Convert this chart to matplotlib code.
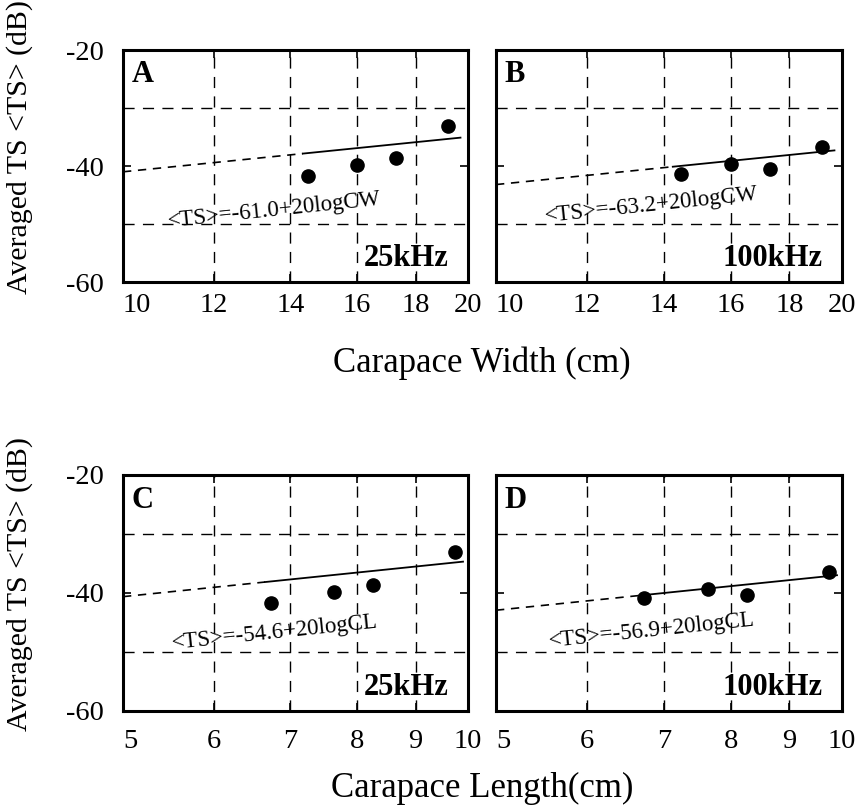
import numpy as np
import matplotlib
matplotlib.use("Agg")
import matplotlib.pyplot as plt
from matplotlib.ticker import FixedLocator, FixedFormatter, NullLocator

plt.rcParams['font.family'] = ['Liberation Serif', 'DejaVu Serif']

# ---- data ----
carapace_width = [14.5, 16.0, 17.3, 19.2]          # cm
carapace_length = [6.73, 7.64, 8.26, 9.75]         # cm
ts_25k_cw = [-41.8, -39.8, -38.7, -33.1]           # dB
ts_100k_cw = [-41.3, -39.7, -40.5, -36.7]
ts_25k_cl = [-41.7, -39.8, -38.6, -33.0]
ts_100k_cl = [-40.9, -39.4, -40.3, -36.5]

fit_intercepts = [-61.0, -63.2, -54.6, -56.9]
panel_letters = ['A', 'B', 'C', 'D']
freq_labels = ['25kHz', '100kHz', '25kHz', '100kHz']
fit_texts = ['<TS>=-61.0+20logCW', '<TS>=-63.2+20logCW',
             '<TS>=-54.6+20logCL', '<TS>=-56.9+20logCL']

cw_ticks = [10, 12, 14, 16, 18, 20]
cl_ticks = [5, 6, 7, 8, 9, 10]
y_ticks = [-60, -40, -20]
y_grid = [-30, -50]

W, H = 863, 808
fig = plt.figure(figsize=(W / 100, H / 100), dpi=100)

def frac_box(x0, y0, x1, y1):
    return [x0 / W, 1 - y1 / H, (x1 - x0) / W, (y1 - y0) / H]

boxes = [frac_box(123, 50, 468, 282), frac_box(496, 50, 842, 282),
         frac_box(123, 475, 468, 711), frac_box(496, 475, 842, 711)]

xs = [carapace_width, carapace_width, carapace_length, carapace_length]
ys = [ts_25k_cw, ts_100k_cw, ts_25k_cl, ts_100k_cl]
ticks = [cw_ticks, cw_ticks, cl_ticks, cl_ticks]
solid_ranges = [(14.35, 19.7), (14.25, 19.7), (6.65, 9.9), (6.72, 9.9)]
text_pos = [(0.44, 0.31), (0.45, 0.33), (0.44, 0.33), (0.45, 0.34)]
xpads = [8, 8, 13, 13]

for i in range(4):
    ax = fig.add_axes(boxes[i])
    tk = ticks[i]
    ax.set_xscale('log')
    ax.set_xlim(tk[0], tk[-1])
    ax.set_ylim(-60, -20)
    ax.xaxis.set_major_locator(FixedLocator(tk))
    ax.xaxis.set_major_formatter(FixedFormatter([str(t) for t in tk]))
    ax.xaxis.set_minor_locator(NullLocator())
    ax.set_yticks(y_ticks)
    ax.set_yticklabels([str(t) for t in y_ticks])
    ax.tick_params(direction='in', length=6, width=1.2, labelsize=20.5,
                   top=True, right=True)
    ax.tick_params(axis='y', pad=14)
    ax.tick_params(axis='x', pad=xpads[i])
    if i == 1 or i == 3:
        ax.tick_params(axis='y', labelleft=False)
    for s in ax.spines.values():
        s.set_linewidth(2.2)

    # grid lines
    for g in tk[1:-1]:
        ax.axvline(g, color='black', lw=1.0, ls=(0, (8, 6)), zorder=1)
    for g in y_grid:
        ax.axhline(g, color='black', lw=1.0, ls=(0, (8, 6)), zorder=1)

    # fit line
    b = fit_intercepts[i]
    s0, s1 = solid_ranges[i]
    xd = np.geomspace(tk[0], s0, 50)
    xsld = np.geomspace(s0, s1, 50)
    ax.plot(xd, b + 20 * np.log10(xd), color='black', lw=1.2,
            ls=(0, (5, 4)), zorder=2)
    ax.plot(xsld, b + 20 * np.log10(xsld), color='black', lw=1.3, zorder=2)

    ax.plot(xs[i], ys[i], 'o', color='black', ms=9.5, zorder=3)

    ax.text(0.025, 0.955, panel_letters[i], transform=ax.transAxes,
            fontsize=22, fontweight='bold', ha='left', va='top')
    ax.text(0.945, 0.068, freq_labels[i], transform=ax.transAxes,
            fontsize=22, fontweight='bold', ha='right', va='baseline')
    tx, ty = text_pos[i]
    ax.text(tx, ty, fit_texts[i], transform=ax.transAxes, fontsize=16.5,
            ha='center', va='center', rotation=6, rotation_mode='anchor')

    labels = ax.get_xticklabels()
    labels[0].set_horizontalalignment('left')

fig.text(482 / W, 1 - 372 / H, 'Carapace Width (cm)', fontsize=25,
         ha='center', va='baseline')
fig.text(482 / W, 1 - 797 / H, 'Carapace Length(cm)', fontsize=25,
         ha='center', va='baseline')
fig.text(20 / W, 1 - 147 / H, 'Averaged TS <TS> (dB)', fontsize=21.5,
         ha='center', va='center', rotation=90)
fig.text(20 / W, 1 - 584 / H, 'Averaged TS <TS> (dB)', fontsize=21.5,
         ha='center', va='center', rotation=90)

fig.savefig('out.png', dpi=100)
